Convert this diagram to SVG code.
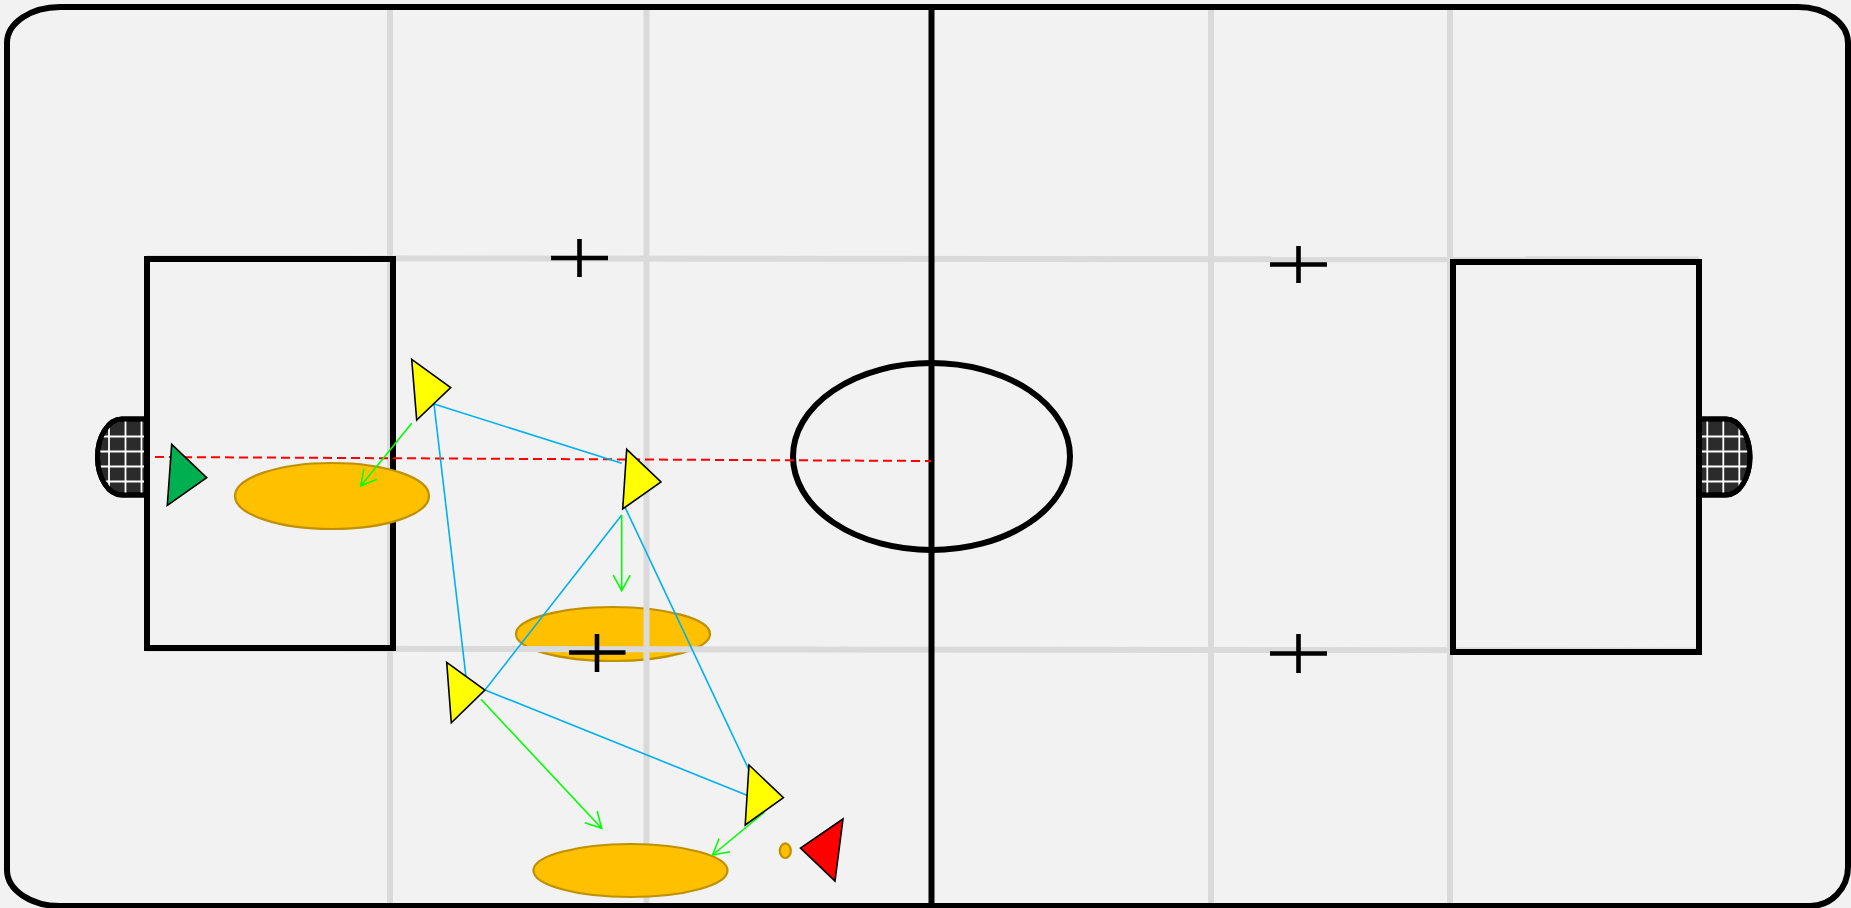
<svg xmlns="http://www.w3.org/2000/svg" width="1851" height="908" viewBox="0 0 1851 908">
<style>
.grey{stroke:#DADADA;stroke-width:6;fill:none}
.blk{stroke:#000;stroke-width:6;fill:none}
.cross{stroke:#000;stroke-width:4.6;fill:none}
.disc{fill:#FFC000;stroke:#BF9000;stroke-width:2.2}
.pl{stroke:#000;stroke-width:1.6;stroke-linejoin:miter}
.pass{stroke:#00B0F0;stroke-width:1.6;fill:none}
.run{stroke:#00FF00;stroke-width:1.6;fill:none;marker-end:url(#ah)}
.net{stroke:#FFFFFF;stroke-width:1.8}
.goal{fill:#2B2B2B;stroke:#000;stroke-width:5}
</style>
<defs>
<marker id="ah" markerUnits="userSpaceOnUse" markerWidth="18" markerHeight="20" refX="15.5" refY="9" orient="auto" overflow="visible">
<path d="M0,0.5 L15.5,9 L0,17.5" fill="none" stroke="#00FF00" stroke-width="1.6"/>
</marker>
<clipPath id="gl"><path d="M150,419 H122 A24.5,38 0 0 0 122,495 H150 Z"/></clipPath>
<clipPath id="gr"><path d="M1696,419 H1726 A24,38 0 0 1 1726,495 H1696 Z"/></clipPath>
</defs>
<rect x="0" y="0" width="1851" height="908" fill="#F2F2F2"/>

<g id="zone-mid"><ellipse class="disc" cx="613" cy="634" rx="97" ry="27"/></g>

<g id="field">
<line class="grey" x1="390" y1="8" x2="390" y2="904"/>
<line class="grey" x1="646.5" y1="8" x2="646.5" y2="904"/>
<line class="grey" x1="1211" y1="8" x2="1211" y2="904"/>
<line class="grey" x1="1450" y1="8" x2="1450" y2="904"/>
<line class="grey" x1="147" y1="258.2" x2="1699" y2="259.5"/>
<line class="grey" x1="147" y1="648.7" x2="1699" y2="650.5"/>
<g id="goal-left">
<path class="goal" d="M147,419 H122 A24.5,38 0 0 0 122,495 H147 Z"/>
<g clip-path="url(#gl)">
<line class="net" x1="109" y1="415" x2="109" y2="499"/>
<line class="net" x1="125.5" y1="415" x2="125.5" y2="499"/>
<line class="net" x1="141.5" y1="415" x2="141.5" y2="499"/>
<line class="net" x1="92" y1="436.5" x2="150" y2="436.5"/>
<line class="net" x1="92" y1="451.5" x2="150" y2="451.5"/>
<line class="net" x1="92" y1="466.5" x2="150" y2="466.5"/>
<line class="net" x1="92" y1="481.5" x2="150" y2="481.5"/>
</g>
<path d="M147,419 H122 A24.5,38 0 0 0 122,495 H147" fill="none" stroke="#000" stroke-width="5"/>
</g>
<g id="goal-right">
<path class="goal" d="M1699,419 H1726 A24,38 0 0 1 1726,495 H1699 Z"/>
<g clip-path="url(#gr)">
<line class="net" x1="1707.3" y1="415" x2="1707.3" y2="499"/>
<line class="net" x1="1723.3" y1="415" x2="1723.3" y2="499"/>
<line class="net" x1="1739.3" y1="415" x2="1739.3" y2="499"/>
<line class="net" x1="1696" y1="436.5" x2="1755" y2="436.5"/>
<line class="net" x1="1696" y1="451.5" x2="1755" y2="451.5"/>
<line class="net" x1="1696" y1="466.5" x2="1755" y2="466.5"/>
<line class="net" x1="1696" y1="481.5" x2="1755" y2="481.5"/>
</g>
<path d="M1699,419 H1726 A24,38 0 0 1 1726,495 H1699" fill="none" stroke="#000" stroke-width="5"/>
</g>
<rect class="blk" x="147" y="259" width="246" height="389"/>
<rect class="blk" x="1453" y="262" width="246" height="390"/>
<line class="blk" x1="931.5" y1="4" x2="931.5" y2="908"/>
<ellipse class="blk" cx="931.5" cy="456.5" rx="138.5" ry="93.5"/>
<path class="blk" d="M60,7 H1798 A50,36 0 0 1 1848,43 V867 A38,39 0 0 1 1810,906 H60 A53,36 0 0 1 7,870 V43 A53,36 0 0 1 60,7 Z"/>
<path class="cross" d="M551,258 H608 M579.5,239 V277"/>
<path class="cross" d="M569,652.5 H625.5 M597,634 V672"/>
<path class="cross" d="M1270,264.5 H1327 M1298.5,246 V283"/>
<path class="cross" d="M1270,653.5 H1327 M1298.5,634 V673"/>
</g>

<g id="zone-left"><ellipse class="disc" cx="332" cy="496" rx="97" ry="33"/></g>
<g id="zone-bottom"><ellipse class="disc" cx="630.5" cy="870.5" rx="97" ry="26.5"/></g>
<g id="ball"><ellipse class="disc" cx="785.3" cy="850.7" rx="5.5" ry="7.3"/></g>

<g id="connectors">
<line x1="155" y1="457" x2="931" y2="461" stroke="#FF0000" stroke-width="2" stroke-dasharray="9,5"/>
<line class="pass" x1="434" y1="404" x2="621.7" y2="463.3"/>
<line class="pass" x1="434" y1="404" x2="466" y2="677"/>
<line class="pass" x1="622.7" y1="502.3" x2="749" y2="770"/>
<line class="pass" x1="621.7" y1="515" x2="485" y2="690"/>
<line class="pass" x1="485" y1="690" x2="748.2" y2="795.7"/>
<line class="run" x1="411.7" y1="423.3" x2="360.7" y2="486"/>
<line class="run" x1="621.7" y1="515" x2="621.7" y2="590.7"/>
<line class="run" x1="481" y1="699.3" x2="601.6" y2="828.3"/>
<line class="run" x1="764.3" y1="812.3" x2="712.6" y2="855"/>
</g>

<g id="player-green"><polygon class="pl" fill="#00B050" points="171.7,444.3 206.7,477.7 167.3,505.3"/></g>
<g id="player-y1"><polygon class="pl" fill="#FFFF00" points="411.7,359.3 450.7,387.7 416.7,420"/></g>
<g id="player-y2"><polygon class="pl" fill="#FFFF00" points="626.7,449.3 661,482 622.7,509"/></g>
<g id="player-y3"><polygon class="pl" fill="#FFFF00" points="446.7,662.3 484.9,690 451.3,722.7"/></g>
<g id="player-y4"><polygon class="pl" fill="#FFFF00" points="749,765 783.4,797.7 745.2,825"/></g>
<g id="player-red"><polygon class="pl" fill="#FF0000" points="843,819 800.5,848 835,881"/></g>
</svg>
